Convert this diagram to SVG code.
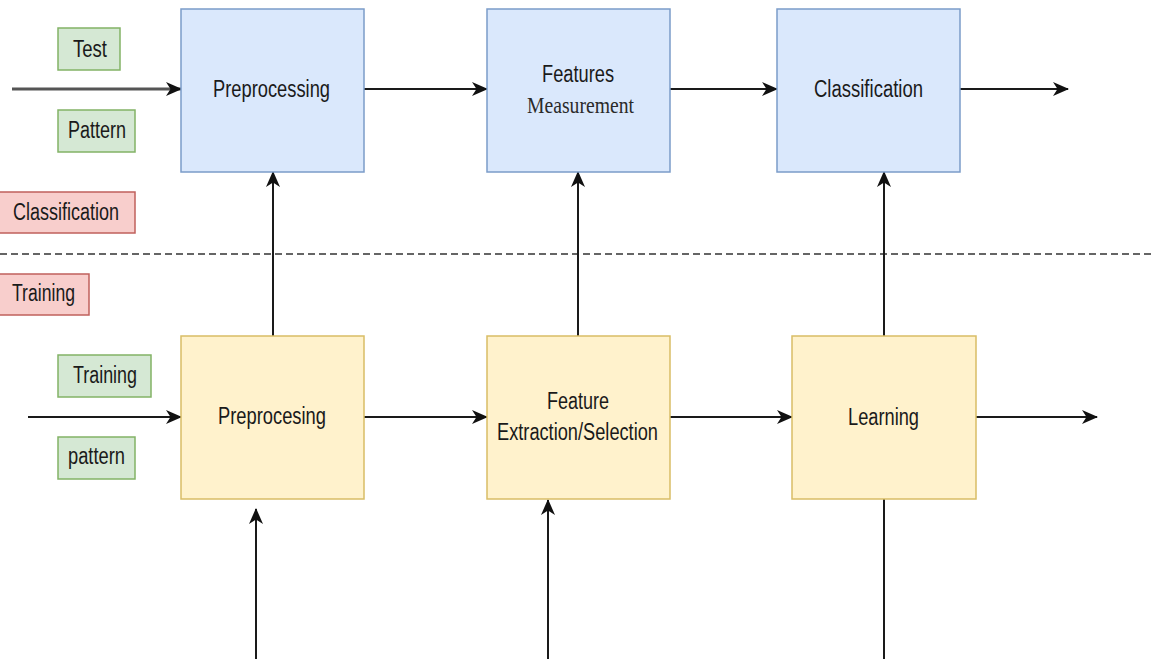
<svg xmlns="http://www.w3.org/2000/svg" width="1151" height="659" viewBox="0 0 1151 659">
<style>
.t{font-family:"Liberation Sans",Arial,sans-serif;font-size:23px;fill:#1a1a1a}
.s{font-family:"Liberation Serif","Times New Roman",serif;font-size:23px;fill:#2a2a2a}
.blue{fill:#dae8fc;stroke:#7b9cc9;stroke-width:1.5}
.yel{fill:#fff2cc;stroke:#d9bd66;stroke-width:1.5}
.grn{fill:#d5e8d4;stroke:#82b366;stroke-width:1.5}
.red{fill:#f8cecc;stroke:#c0605c;stroke-width:1.5}
.c{fill:none;stroke:#1a1a1a;stroke-width:2}
</style>
<defs>
<marker id="ah" markerUnits="userSpaceOnUse" markerWidth="16" markerHeight="16" viewBox="0 0 16 16" refX="15" refY="8" orient="auto">
<path d="M0,1 L16,8 L0,15 L4.5,8 Z" fill="#111"/>
</marker>
</defs>
<rect width="1151" height="659" fill="#fff"/>
<g id="connectors">
<line x1="0" y1="254" x2="1151" y2="254" stroke="#333" stroke-width="1.5" stroke-dasharray="7,4"/>
<line x1="12" y1="89" x2="181" y2="89" style="fill:none;stroke:#555;stroke-width:3" marker-end="url(#ah)"/>
<line class="c" x1="364" y1="89" x2="487" y2="89" marker-end="url(#ah)"/>
<line class="c" x1="670" y1="89" x2="777" y2="89" marker-end="url(#ah)"/>
<line class="c" x1="960" y1="89" x2="1068" y2="89" marker-end="url(#ah)"/>
<line class="c" x1="273" y1="336" x2="273" y2="172" marker-end="url(#ah)"/>
<line class="c" x1="578" y1="336" x2="578" y2="172" marker-end="url(#ah)"/>
<line class="c" x1="884" y1="336" x2="884" y2="172" marker-end="url(#ah)"/>
<line class="c" x1="28" y1="417" x2="181" y2="417" marker-end="url(#ah)"/>
<line class="c" x1="364" y1="417" x2="487" y2="417" marker-end="url(#ah)"/>
<line class="c" x1="670" y1="417" x2="792" y2="417" marker-end="url(#ah)"/>
<line class="c" x1="976" y1="417" x2="1097" y2="417" marker-end="url(#ah)"/>
<line class="c" x1="256" y1="659" x2="256" y2="509" marker-end="url(#ah)"/>
<line class="c" x1="548" y1="659" x2="548" y2="500" marker-end="url(#ah)"/>
<line class="c" x1="884" y1="499" x2="884" y2="659"/>
</g>
<g id="lbl-test"><rect class="grn" x="58" y="28" width="62" height="42"/><text class="t" x="73" y="57" textLength="34" lengthAdjust="spacingAndGlyphs">Test</text></g>
<g id="lbl-pattern"><rect class="grn" x="58" y="110" width="77" height="42"/><text class="t" x="68" y="138" textLength="58" lengthAdjust="spacingAndGlyphs">Pattern</text></g>
<g id="lbl-classification"><rect class="red" x="-1" y="192" width="136" height="41"/><text class="t" x="13" y="220" textLength="106" lengthAdjust="spacingAndGlyphs">Classification</text></g>
<g id="lbl-training-phase"><rect class="red" x="-1" y="274" width="90" height="41"/><text class="t" x="12" y="301" textLength="63" lengthAdjust="spacingAndGlyphs">Training</text></g>
<g id="lbl-training"><rect class="grn" x="58" y="355" width="93" height="42"/><text class="t" x="73" y="383" textLength="64" lengthAdjust="spacingAndGlyphs">Training</text></g>
<g id="lbl-pattern2"><rect class="grn" x="58" y="437" width="77" height="42"/><text class="t" x="68" y="464" textLength="57" lengthAdjust="spacingAndGlyphs">pattern</text></g>
<g id="test-preprocessing"><rect class="blue" x="181" y="9" width="183" height="163"/><text class="t" x="213" y="97" textLength="117" lengthAdjust="spacingAndGlyphs">Preprocessing</text></g>
<g id="features-measurement"><rect class="blue" x="487" y="9" width="183" height="163"/><text class="t" x="542" y="82" textLength="72" lengthAdjust="spacingAndGlyphs">Features</text><text class="s" x="527" y="113" textLength="107" lengthAdjust="spacingAndGlyphs">Measurement</text></g>
<g id="classification"><rect class="blue" x="777" y="9" width="183" height="163"/><text class="t" x="814" y="97" textLength="109" lengthAdjust="spacingAndGlyphs">Classification</text></g>
<g id="train-preprocesing"><rect class="yel" x="181" y="336" width="183" height="163"/><text class="t" x="218" y="424" textLength="108" lengthAdjust="spacingAndGlyphs">Preprocesing</text></g>
<g id="feature-extraction"><rect class="yel" x="487" y="336" width="183" height="163"/><text class="t" x="547" y="409" textLength="62" lengthAdjust="spacingAndGlyphs">Feature</text><text class="t" x="497" y="440" textLength="161" lengthAdjust="spacingAndGlyphs">Extraction/Selection</text></g>
<g id="learning"><rect class="yel" x="792" y="336" width="184" height="163"/><text class="t" x="848" y="425" textLength="71" lengthAdjust="spacingAndGlyphs">Learning</text></g>
</svg>
